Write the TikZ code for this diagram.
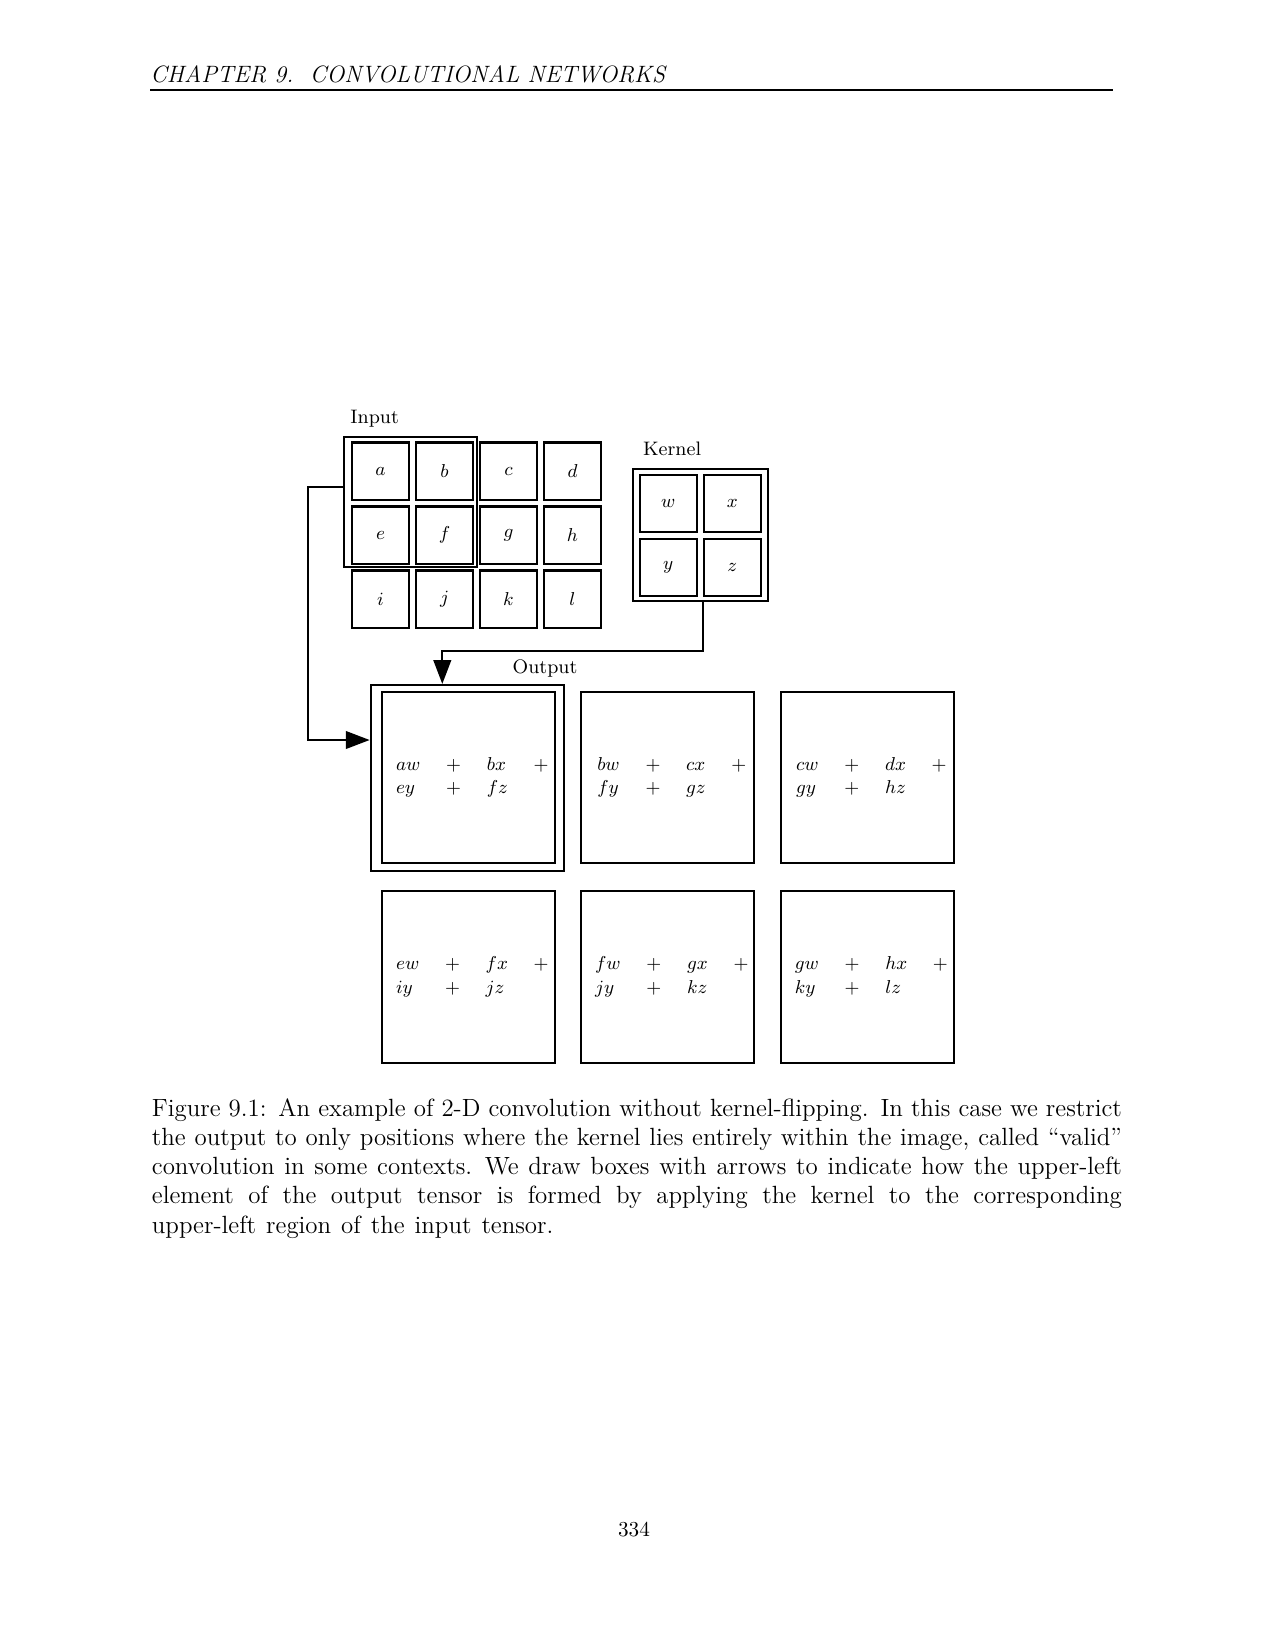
\documentclass[tikz,border=0pt]{standalone}
\usepackage{amsmath}
\usepackage{amssymb}
\usepackage{tikz}
\usetikzlibrary{arrows.meta}

\newcommand{\convsum}[4]{\hspace*{3.9pt}{\setlength{\arraycolsep}{6.2pt}$\begin{array}{@{}lclc@{}}#1&+&#2&+\\#3&+&#4&\end{array}$}}

\begin{document}
\begin{tikzpicture}[x=0.48184pt,y=-0.48184pt,node distance=30.84pt,
  cell/.style={draw,line width=1pt,minimum size=27.5pt,inner sep=0pt},
  frame/.style={draw,line width=1pt,inner sep=0pt},
  outbox/.style={draw,line width=1pt,minimum width=83.4pt,minimum height=82.8pt,inner sep=0pt},
  tag/.style={inner sep=0pt,anchor=base west},
  conn/.style={line width=1pt,-{Triangle[length=11.5pt,width=8.5pt]}},
  font=\fontsize{9.4}{11.3}\selectfont]
\useasboundingbox (0,0) rectangle (1275,1650);

% running head
\node[tag,font=\fontsize{11.4}{13}\selectfont\itshape] (head) at (150,82) {CHAPTER 9.\ \ CONVOLUTIONAL NETWORKS};
\draw[line width=0.6pt] (150,90) -- (1113,90);

% input
\node[tag] (intag) at (350,423.3) {Input};
\node[cell] (a) at (380.5,471) {$a$};
\node[cell] (b) [right of=a] {$b$};
\node[cell] (c) [right of=b] {$c$};
\node[cell] (d) [right of=c] {$d$};
\node[cell] (e) [below of=a] {$e$};
\node[cell] (f) [right of=e] {$f$};
\node[cell] (g) [right of=f] {$g$};
\node[cell] (h) [right of=g] {$h$};
\node[cell] (i) [below of=e] {$i$};
\node[cell] (j) [right of=i] {$j$};
\node[cell] (k) [right of=j] {$k$};
\node[cell] (l) [right of=k] {$l$};
\node[frame,minimum width=63.8pt,minimum height=62.9pt] (iframe) at (410.5,502) {};

% kernel
\node[tag] (ktag) at (642.7,455) {Kernel};
\node[cell] (kw) at (668.3,503.2) {$w$};
\node[cell] (kx) [right of=kw] {$x$};
\node[cell] (ky) [below of=kw] {$y$};
\node[cell] (kz) [right of=ky] {$z$};
\node[frame,minimum width=64.75pt,minimum height=63.45pt] (kframe) at (700.5,535.2) {};

% output
\node[tag] (otag) at (512.3,673.3) {Output};
\begin{scope}[node distance=96.12pt]
\node[outbox] (o1) at (468.3,777.5) {\convsum{aw}{bx}{ey}{fz}};
\node[outbox] (o2) [right of=o1] {\convsum{bw}{cx}{fy}{gz}};
\node[outbox] (o3) [right of=o2] {\convsum{cw}{dx}{gy}{hz}};
\node[outbox] (o4) [below of=o1] {\convsum{ew}{fx}{iy}{jz}};
\node[outbox] (o5) [right of=o4] {\convsum{fw}{gx}{jy}{kz}};
\node[outbox] (o6) [right of=o5] {\convsum{gw}{hx}{ky}{lz}};
\end{scope}
\node[frame,minimum width=93.3pt,minimum height=89.5pt] (oframe) at (467.5,777.85) {};

% arrows
\coordinate (ibend) at (308.3,486.7);
\coordinate (obend) at (308.3,740);
\coordinate (kbend) at (442.3,651);
\draw[conn] (ibend -| iframe.west) -- (ibend) -- (obend) -- (obend -| oframe.west);
\draw[conn] (kframe.south -| kz.west) |- (kbend) -- (kbend |- oframe.north);

% caption and page number
\node[anchor=north west,inner sep=0pt,text width=467.4pt,align=justify,font=\fontsize{12}{14.07}\selectfont] (cap) at (151.5,1098)
  {\spaceskip=4.8pt plus 2.5pt minus 2pt\relax\hyphenpenalty=10000\relax
   Figure 9.1: An example of 2-D convolution without kernel-flipping. In this case we restrict\linebreak
   the output to only positions where the kernel lies entirely within the image, called ``valid''\linebreak
   convolution in some contexts. We draw boxes with arrows to indicate how the upper-left\linebreak
   element of the output tensor is formed by applying the kernel to the corresponding\linebreak
   upper-left region of the input tensor.};
\node[anchor=base,inner sep=0pt,font=\fontsize{10.25}{12}\selectfont] (pnum) at (634,1536.7) {334};
\end{tikzpicture}
\end{document}
